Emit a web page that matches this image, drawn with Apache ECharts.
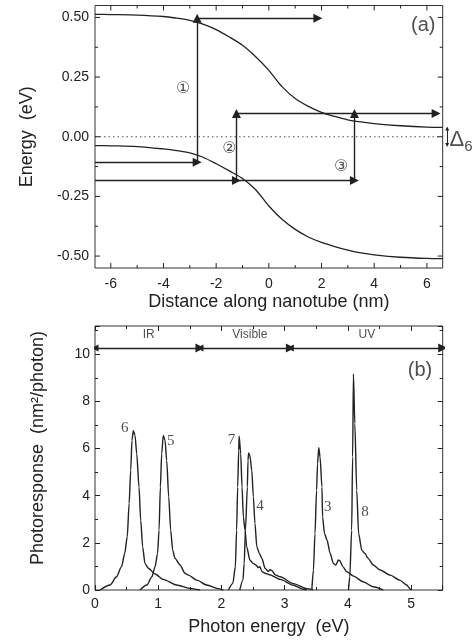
<!DOCTYPE html>
<html><head><meta charset="utf-8">
<script src="https://cdn.jsdelivr.net/npm/echarts@6/dist/echarts.min.js"></script>
<style>html,body{margin:0;padding:0;background:#fff}#c{width:473px;height:641px}</style>
</head><body><div id="c"></div>
<script>
// ---------- Panel (a) data ----------
const bandX = [-6.6,-6,-5,-4,-3.5,-3,-2.5,-2,-1.5,-1,-0.5,0,0.5,1,1.5,2,2.5,3,3.5,4,5,6,6.6];
const conductionBand = [0.513,0.512,0.51,0.504,0.497,0.488,0.472,0.449,0.418,0.383,0.335,0.278,0.21,0.16,0.127,0.102,0.085,0.071,0.062,0.055,0.046,0.04,0.039];
const valenceBand = [-0.037,-0.038,-0.041,-0.051,-0.058,-0.068,-0.086,-0.113,-0.143,-0.175,-0.222,-0.29,-0.346,-0.388,-0.42,-0.443,-0.46,-0.475,-0.487,-0.495,-0.505,-0.51,-0.511];
const fermiLevel = [[-6.6,0],[6.6,0]];
// transitions: [x1, y1, x2, y2] (arrow head at the second point)
const transitionArrows = [
  [-6.6,-0.107,-2.72,-0.107],
  [-2.72,-0.107,-2.72,0.497],
  [-2.72,0.497,1.86,0.497],
  [-6.6,-0.183,-1.23,-0.183],
  [-1.23,-0.183,-1.23,0.097],
  [-1.23,0.097,6.35,0.097],
  [-1.23,-0.183,3.25,-0.183],
  [3.25,-0.183,3.25,0.097]
];
const transitionLabels = [['\u2460',-3.25,0.2],['\u2461',-1.5,-0.05],['\u2462',2.75,-0.127]];
const deltaArrow = [6.77,0.035,6.77,-0.035];
const deltaLabel = [7.3,-0.012];
const panelALabel = ['(a)',5.86,0.465];
const topXRange = [-6.6,6.6];
const topYRange = [-0.55,0.55];
const topXTicks = [-6,-4,-2,0,2,4,6];
const topXMinor = [-5,-3,-1,1,3,5];
const topYTicks = [-0.5,-0.25,0,0.25,0.5];
const topYMinor = [-0.375,-0.125,0.125,0.375];

// ---------- Panel (b) data ----------
const curve6 = [[0.08,0],[0.24,0.21],[0.34,0.56],[0.42,0.99],[0.47,1.55],[0.51,2.26],[0.54,3.67],[0.565,5.08],[0.585,6.35],[0.606,6.76],[0.633,6.56],[0.66,5.78],[0.696,4.37],[0.723,2.96],[0.754,1.83],[0.79,1.13],[0.844,0.92],[0.95,0.68],[1.08,0.45],[1.29,0.21],[1.5,0.07],[1.66,0]];
const curve5 = [[0.71,0],[0.82,0.21],[0.9,0.56],[0.95,0.99],[0.99,1.55],[1.013,2.54],[1.034,4.37],[1.055,5.78],[1.08,6.56],[1.108,6.35],[1.134,5.5],[1.166,3.95],[1.197,2.54],[1.229,1.69],[1.266,1.34],[1.345,1.06],[1.424,0.71],[1.477,0.63],[1.61,0.42],[1.77,0.21],[1.93,0.07],[2.03,0]];
const curve7 = [[2.11,0],[2.18,0.28],[2.22,0.99],[2.24,2.54],[2.257,4.37],[2.273,5.92],[2.28,6.52],[2.305,5.78],[2.326,4.37],[2.347,3.1],[2.373,2.54],[2.4,1.83],[2.45,1.27],[2.5,1.13],[2.55,1.05],[2.58,0.95],[2.61,0.99],[2.64,0.78],[2.69,0.71],[2.75,0.66],[2.93,0.45],[3.14,0.2],[3.3,0.03],[3.35,0]];
const curve4 = [[2.29,0],[2.34,0.42],[2.36,1.13],[2.38,2.54],[2.41,4.37],[2.42,5.5],[2.43,5.81],[2.45,5.71],[2.48,5.08],[2.505,3.95],[2.53,2.82],[2.56,1.83],[2.6,1.55],[2.64,1.34],[2.69,0.92],[2.74,0.78],[2.77,0.86],[2.8,0.82],[2.85,0.64],[2.93,0.56],[3.14,0.27],[3.35,0.06],[3.45,0]];
const curve3 = [[3.43,0],[3.455,0.85],[3.48,2.4],[3.505,4.23],[3.52,5.36],[3.54,6.04],[3.56,5.64],[3.59,4.37],[3.6,3.1],[3.63,2.4],[3.67,2.12],[3.72,1.55],[3.77,1.13],[3.81,1.06],[3.85,1.27],[3.87,1.25],[3.92,0.99],[3.98,0.78],[4.09,0.59],[4.24,0.35],[4.4,0.14],[4.56,0]];
const curve8 = [[4.01,0],[4.03,0.56],[4.06,2.54],[4.075,5.64],[4.088,9.17],[4.11,7.05],[4.14,4.23],[4.17,2.4],[4.22,1.69],[4.27,1.55],[4.32,1.34],[4.4,1.06],[4.51,0.85],[4.67,0.63],[4.82,0.42],[4.93,0.21],[4.99,0.03],[5.0,0]];
const curveLabels = [['6',0.47,6.88],['5',1.2,6.32],['7',2.16,6.35],['4',2.61,3.55],['3',3.68,3.53],['8',4.27,3.31]];
const regionArrows = [[0,1.66,10.27],[1.66,3.09,10.27],[3.09,5.5,10.27]];
const regionLabels = [['IR',0.85,10.82],['Visible',2.45,10.82],['UV',4.3,10.82]];
const panelBLabel = ['(b)',5.14,9.31];

// ---------- helpers ----------
const INK = '#222';
const FONT = 'Liberation Sans';
function axisBase(extra){
  return Object.assign({
    type:'value', splitLine:{show:false}, minorSplitLine:{show:false},
    axisLine:{show:false, onZero:false},
  }, extra);
}
function labelAxis(kind, grid, pos, range, values, fmt, name, nameGap, namePad){
  return axisBase({
    gridIndex:grid, position:pos, min:range[0], max:range[1],
    axisTick:{show:false},
    axisLabel:{show:true, customValues:values, formatter:fmt, color:INK, fontFamily:FONT, fontSize:14, margin: kind==='x'?9:6},
    name: name, nameLocation:'middle', nameGap:nameGap,
    nameTextStyle:{color:INK, fontFamily:FONT, fontSize:18, padding:namePad||0}
  });
}
function intervalAxis(kind, grid, pos, min, max, interval, labels, name, nameGap, namePad){
  return axisBase({
    gridIndex:grid, position:pos, min:min, max:max, interval:interval,
    axisTick:{show:true, inside:true, length:5, lineStyle:{color:INK,width:1}},
    minorTick:{show:true, splitNumber:2, length:3, lineStyle:{color:INK,width:1}},
    axisLabel:{show:labels, color:INK, fontFamily:FONT, fontSize:14, margin: kind==='x'?7:5,
      showMaxLabel:false},
    name: name||'', nameLocation:'middle', nameGap:nameGap||0,
    nameTextStyle:{color:INK, fontFamily:FONT, fontSize:18, padding:namePad||0}
  });
}
const fx = v => String(v);
const fy = v => v.toFixed(2);

const xAxes = [
  labelAxis('x',0,'bottom',topXRange,topXTicks,fx,'Distance along nanotube (nm)',25),
  intervalAxis('x',1,'bottom',0,5.5,1,true,'Photon energy  (eV)',28),
  intervalAxis('x',1,'top',0,5.5,1,false)
];
const yAxes = [
  labelAxis('y',0,'left',topYRange,topYTicks,fy,'Energy  (eV)',59),
  intervalAxis('y',1,'left',0,11.2,2,true,'Photoresponse  (nm\u00b2/photon)',48,[0,0,0,20]),
  intervalAxis('y',1,'right',0,11.2,2,false)
];

// tick marks of panel (a), drawn on all four sides through the axis scales
const tickData = [];
topXTicks.forEach(v => tickData.push([v,0,5]));
topXMinor.forEach(v => tickData.push([v,0,3]));
topYTicks.forEach(v => tickData.push([v,1,5]));
topYMinor.forEach(v => tickData.push([v,1,3]));
const tickSeries = {
  type:'custom', xAxisIndex:0, yAxisIndex:0, clip:false, silent:true, animation:false, z:6,
  data: tickData,
  renderItem: function(params, api){
    const v = api.value(0), k = api.value(1), len = api.value(2);
    const st = {stroke:INK, lineWidth:1};
    let a, b, sh1, sh2;
    if (k === 0){
      a = api.coord([v, topYRange[0]]); b = api.coord([v, topYRange[1]]);
      sh1 = {x1:a[0], y1:a[1], x2:a[0], y2:a[1]-len};
      sh2 = {x1:b[0], y1:b[1], x2:b[0], y2:b[1]+len};
    } else {
      a = api.coord([topXRange[0], v]); b = api.coord([topXRange[1], v]);
      sh1 = {x1:a[0], y1:a[1], x2:a[0]+len, y2:a[1]};
      sh2 = {x1:b[0], y1:b[1], x2:b[0]-len, y2:b[1]};
    }
    return {type:'group', children:[
      {type:'line', shape:sh1, style:st},
      {type:'line', shape:sh2, style:st}
    ]};
  }
};

function curveSeries(data){
  return {type:'line', data:data, xAxisIndex:1, yAxisIndex:1, showSymbol:false, symbol:'none',
    smooth:0.25, smoothMonotone:'x', lineStyle:{color:INK, width:1.4}, silent:true, animation:false, z:3};
}
function textSeries(items, xi, yi, style){
  return {type:'scatter', xAxisIndex:xi, yAxisIndex:yi, symbolSize:0, silent:true, animation:false, clip:false,
    data: items.map(t => ({name:t[0], value:[t[1], t[2]]})),
    label: Object.assign({show:true, position:'inside', formatter: p => p.name, color:INK}, style), z:5};
}

const series = [
  {type:'line', data: bandX.map((x,i)=>[x, conductionBand[i]]), xAxisIndex:0, yAxisIndex:0, showSymbol:false, symbol:'none', smooth:0.3, lineStyle:{color:INK,width:1.3}, animation:false},
  {type:'line', data: bandX.map((x,i)=>[x, valenceBand[i]]), xAxisIndex:0, yAxisIndex:0, showSymbol:false, symbol:'none', smooth:0.3, lineStyle:{color:INK,width:1.3}, animation:false},
  {type:'line', data: fermiLevel, xAxisIndex:0, yAxisIndex:0, showSymbol:false, symbol:'none', lineStyle:{color:'#555',width:1.2,type:[1.5,3]}, animation:false},
  {type:'lines', coordinateSystem:'cartesian2d', xAxisIndex:0, yAxisIndex:0, animation:false,
    symbol:['none','triangle'], symbolSize:[7,9],
    lineStyle:{color:INK, width:1.4, opacity:1},
    data: transitionArrows.map(a => ({coords:[[a[0],a[1]],[a[2],a[3]]]})), z:4},
  {type:'lines', coordinateSystem:'cartesian2d', xAxisIndex:0, yAxisIndex:0, animation:false, clip:false,
    symbol:['triangle','triangle'], symbolSize:4,
    lineStyle:{color:INK, width:1, opacity:1},
    data: [{coords:[[deltaArrow[0],deltaArrow[1]],[deltaArrow[2],deltaArrow[3]]]}]},
  tickSeries,
  textSeries(transitionLabels,0,0,{fontFamily:'DejaVu Sans', fontSize:16}),
  {type:'scatter', xAxisIndex:0, yAxisIndex:0, symbolSize:0, silent:true, animation:false, clip:false,
    data:[{value:deltaLabel}],
    label:{show:true, position:'inside', formatter:'{d|\u0394}{s|6}',
      rich:{d:{fontFamily:FONT, fontSize:22, color:INK}, s:{fontFamily:FONT, fontSize:15, color:INK, padding:[14,0,0,0]}}}},
  textSeries([panelALabel],0,0,{fontFamily:FONT, fontSize:20}),

  curveSeries(curve6), curveSeries(curve5), curveSeries(curve7),
  curveSeries(curve4), curveSeries(curve3), curveSeries(curve8),
  {type:'lines', coordinateSystem:'cartesian2d', xAxisIndex:1, yAxisIndex:1, animation:false,
    symbol:['triangle','triangle'], symbolSize:[7,9],
    lineStyle:{color:INK, width:1.4, opacity:1},
    data: regionArrows.map(a => ({coords:[[a[0],a[2]],[a[1],a[2]]]}))},
  textSeries(regionLabels,1,1,{fontFamily:FONT, fontSize:12}),
  textSeries(curveLabels,1,1,{fontFamily:'Liberation Serif', fontSize:15}),
  textSeries([panelBLabel],1,1,{fontFamily:FONT, fontSize:20})
];

const chart = echarts.init(document.getElementById('c'), null, {renderer:'canvas'});
chart.setOption({
  backgroundColor:'#fff',
  animation:false,
  grid:[
    {left:95, top:5.5, width:347.7, height:262.5, show:true, borderColor:'#333', borderWidth:1, backgroundColor:'transparent'},
    {left:95, top:326, width:347.7, height:264, show:true, borderColor:'#333', borderWidth:1, backgroundColor:'transparent'}
  ],
  xAxis:xAxes,
  yAxis:yAxes,
  series:series
});
</script></body></html>
